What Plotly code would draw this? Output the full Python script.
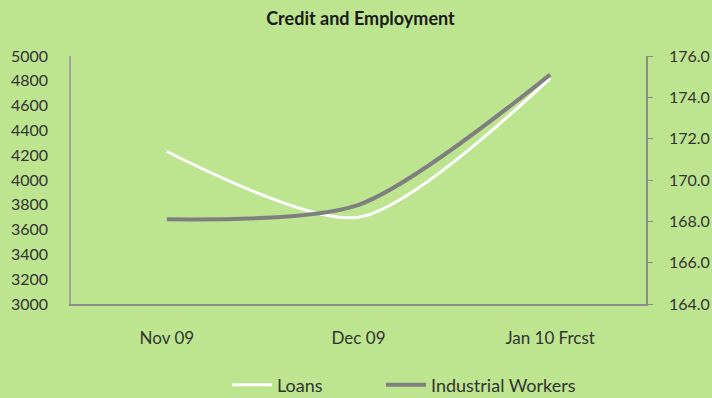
import plotly.graph_objects as go

categories = ["Nov 09", "Dec 09", "Jan 10 Frcst"]
loans = [4230, 3700, 4820]
industrial_workers = [168.1, 168.8, 175.1]

left_ticks = list(range(3000, 5001, 200))
right_ticks = [164, 166, 168, 170, 172, 174, 176]

bg = "#BDE48F"
font = "Lato, Open Sans, sans-serif"

fig = go.Figure()
fig.add_trace(go.Scatter(
    x=categories, y=loans, name="Loans", mode="lines",
    line=dict(color="white", width=3, shape="spline", smoothing=0.75),
    yaxis="y", legend="legend",
))
fig.add_trace(go.Scatter(
    x=categories, y=industrial_workers, name="Industrial Workers", mode="lines",
    line=dict(color="#7F7F7F", width=4, shape="spline", smoothing=0.75),
    yaxis="y2", legend="legend2",
))

legend_common = dict(
    orientation="h", xref="container", xanchor="left",
    yref="container", y=13 / 398, yanchor="middle",
    font=dict(family=font, size=18, color="#333333"),
    bgcolor="rgba(0,0,0,0)", itemwidth=40,
)

fig.update_layout(
    width=712, height=398,
    paper_bgcolor=bg, plot_bgcolor=bg,
    margin=dict(l=71, r=66, t=56, b=94),
    title=dict(text="<b>Credit and Employment</b>", x=360.5 / 712, xanchor="center",
               y=1 - 19 / 398, yanchor="middle",
               font=dict(family=font, size=18, color="#1a1a1a")),
    font=dict(family=font, size=16, color="#333333"),
    xaxis=dict(
        type="category", range=[-0.5, 2.5], showgrid=False, zeroline=False,
        showline=True, linecolor="#8C8C8C", linewidth=2, automargin=False,
        ticks="", ticklabelstandoff=18,
        tickfont=dict(family=font, size=17, color="#333333"),
    ),
    yaxis=dict(
        range=[3000, 5000], tickvals=left_ticks, showgrid=False, zeroline=False,
        showline=True, linecolor="#A0A0A0", linewidth=1.5, automargin=False,
        ticks="", ticklabelstandoff=18,
        tickfont=dict(family=font, size=16, color="#333333"),
    ),
    yaxis2=dict(
        range=[164, 176], tickvals=right_ticks, tickformat=".1f",
        overlaying="y", side="right", showgrid=False, zeroline=False,
        showline=True, linecolor="#8C8C8C", linewidth=1.5, automargin=False,
        ticks="outside", ticklen=5, tickcolor="#8C8C8C",
        ticklabelstandoff=13,
        tickfont=dict(family=font, size=16, color="#333333"),
    ),
    legend=dict(x=227 / 712, **legend_common),
    legend2=dict(x=381 / 712, **legend_common),
    showlegend=True,
)

fig.write_html("out.html")
